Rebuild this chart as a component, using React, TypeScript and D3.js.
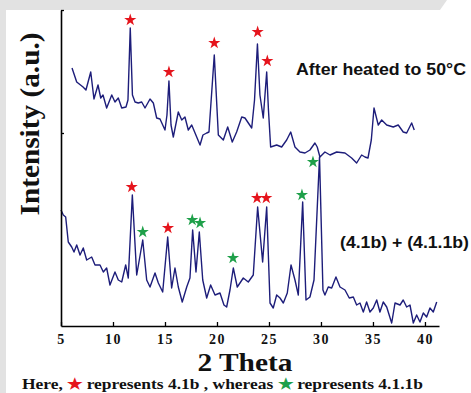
import React, { useRef, useEffect } from 'react';
import * as d3 from 'd3';

const W = 471;
const H = 393;

const xTicks = [5, 10, 15, 20, 25, 30, 35, 40];

// upper pattern: after heating to 50 °C
const heatedTheta = [6.06, 6.51, 7.12, 7.40, 7.86, 8.17, 8.56, 8.82, 9.04, 9.39, 9.88, 10.19, 10.51, 10.84, 11.25, 11.44, 11.66, 11.87, 12.12, 12.43, 12.76, 13.08, 13.56, 13.88, 14.20, 14.52, 15.0, 15.19, 15.38, 15.58, 15.80, 16.28, 16.61, 16.92, 17.24, 17.57, 18.05, 18.37, 18.65, 19.01, 19.23, 19.74, 20.13, 20.61, 21.03, 21.47, 21.89, 22.38, 22.69, 23.34, 23.61, 23.89, 24.13, 24.45, 24.78, 24.95, 25.16, 25.74, 26.22, 26.70, 27.09, 27.50, 27.98, 28.46, 28.94, 29.42, 29.64, 29.90, 30.38, 30.87, 31.51, 32.31, 32.95, 33.43, 33.91, 34.23, 34.52, 34.84, 35.10, 35.51, 35.84, 36.32, 36.95, 37.43, 37.91, 38.24, 38.72, 38.97];
const heatedCounts = [258, 244, 239, 236, 254, 227, 241, 228, 231, 218, 231, 224, 228, 218, 219, 226, 298, 231, 224, 223, 224, 218, 227, 223, 208, 207, 196, 211, 245, 201, 189, 214, 206, 209, 196, 201, 189, 181, 191, 193, 194, 271, 191, 186, 199, 184, 194, 209, 208, 198, 226, 282, 231, 208, 254, 216, 179, 181, 179, 186, 194, 179, 174, 173, 176, 183, 179, 169, 174, 171, 174, 173, 168, 163, 171, 169, 168, 186, 218, 201, 206, 201, 199, 201, 194, 193, 203, 196];

// lower pattern: (4.1b) + (4.1.1b)
const mixTheta = [5.0, 5.22, 5.45, 5.70, 6.03, 6.25, 6.51, 6.83, 7.14, 7.47, 7.95, 8.27, 8.75, 9.07, 9.39, 9.71, 10.19, 10.51, 10.84, 11.22, 11.47, 11.86, 12.28, 12.86, 13.24, 13.56, 14.04, 14.36, 14.78, 15.26, 15.64, 15.96, 16.28, 16.66, 17.09, 17.40, 17.66, 17.98, 18.30, 18.63, 19.01, 19.39, 19.81, 20.29, 20.67, 20.93, 21.25, 21.57, 21.95, 22.21, 22.53, 23.01, 23.49, 23.91, 24.39, 24.78, 25.10, 25.41, 25.74, 26.06, 26.38, 26.76, 27.12, 27.50, 27.82, 28.24, 28.56, 28.94, 29.33, 29.86, 30.19, 30.38, 30.70, 31.03, 31.44, 31.83, 32.31, 32.72, 33.11, 33.43, 33.75, 34.07, 34.39, 34.71, 35.03, 35.36, 35.67, 35.99, 36.32, 36.80, 37.12, 37.60, 37.91, 38.24, 38.56, 38.88, 39.20, 39.52, 39.84, 40.16, 40.48, 40.80, 41.13];
const mixCounts = [116, 111, 109, 84, 79, 74, 81, 71, 78, 66, 69, 61, 61, 54, 58, 41, 54, 46, 44, 61, 48, 131, 51, 86, 46, 39, 53, 43, 34, 89, 38, 58, 39, 24, 39, 48, 96, 54, 94, 46, 28, 41, 31, 33, 21, 19, 36, 58, 39, 43, 48, 44, 51, 119, 64, 119, 23, 18, 31, 28, 23, 33, 61, 46, 31, 124, 26, 29, 46, 169, 36, 31, 39, 38, 49, 39, 36, 28, 29, 21, 23, 14, 24, 14, 18, 26, 14, 24, 19, 3, 23, 21, 26, 19, 21, 3, 11, 4, 13, 9, 18, 14, 24];

// star markers: red = 4.1b, green = 4.1.1b
const redStarTheta = [11.66, 15.38, 19.74, 23.91, 24.84, 11.80, 15.29, 23.85, 24.74];
const redStarCounts = [306, 254, 283, 294, 265, 139, 98, 128, 128];
const greenStarTheta = [12.86, 17.62, 18.37, 21.54, 28.17, 29.23];
const greenStarCounts = [94, 106, 103, 68, 131, 164];

const serif = '"Times New Roman", "Liberation Serif", serif';
const sans = 'Arial, "Liberation Sans", sans-serif';

const XrdChart = () => {
  const ref = useRef(null);

  useEffect(() => {
    const svg = d3.select(ref.current);
    svg.selectAll('*').remove();

    const margin = { top: 10, right: 32, bottom: 67, left: 61 };

    const x = d3.scaleLinear()
      .domain([5, 41.35])
      .range([margin.left, W - margin.right]);
    const y = d3.scaleLinear()
      .domain([0, 316])
      .range([H - margin.bottom, margin.top]);

    // page backdrop (grey band at top and left edge)
    svg.append('rect').attr('width', W).attr('height', H).attr('fill', '#fff');
    svg.append('path')
      .attr('d', 'M0,0 L447,0 L440,10 L6,10 L6,393 L0,393 Z')
      .attr('fill', '#e2e2e2');

    const line = d3.line().x(d => x(d[0])).y(d => y(d[1]));

    svg.append('path')
      .datum(d3.zip(heatedTheta, heatedCounts))
      .attr('d', line)
      .attr('fill', 'none')
      .attr('stroke', '#1d1d7a')
      .attr('stroke-width', 1.4)
      .attr('stroke-linejoin', 'round');

    svg.append('path')
      .datum(d3.zip(mixTheta, mixCounts))
      .attr('d', line)
      .attr('fill', 'none')
      .attr('stroke', '#1d1d7a')
      .attr('stroke-width', 1.4)
      .attr('stroke-linejoin', 'round');

    // axes
    const xAxis = svg.append('g')
      .attr('transform', `translate(0, ${y(0)})`)
      .call(d3.axisBottom(x).tickValues(xTicks).tickSizeInner(-4).tickSizeOuter(0));
    xAxis.select('.domain').attr('stroke', '#000').attr('stroke-width', 1.6);
    xAxis.selectAll('.tick line').attr('stroke', '#000').attr('stroke-width', 1.3);
    xAxis.selectAll('.tick text')
      .attr('y', 18)
      .attr('dy', 0)
      .attr('fill', '#111')
      .style('font-family', serif)
      .style('font-weight', 'bold')
      .style('font-size', '14px')
      .style('letter-spacing', '1.5px');

    const yAxis = svg.append('g')
      .attr('transform', `translate(${x(5)}, 0)`)
      .call(d3.axisLeft(y).tickValues([193, 316]).tickSizeInner(-3).tickSizeOuter(0).tickFormat(() => ''));
    yAxis.select('.domain').attr('stroke', '#000').attr('stroke-width', 1.6);
    yAxis.selectAll('.tick line').attr('stroke', '#000').attr('stroke-width', 1.3);

    // peak markers
    const star = d3.symbol().type(d3.symbolStar).size(46);
    svg.append('g').selectAll('path')
      .data(d3.zip(redStarTheta, redStarCounts))
      .join('path')
      .attr('transform', d => `translate(${x(d[0])}, ${y(d[1])})`)
      .attr('d', star)
      .attr('fill', '#e5141c');
    svg.append('g').selectAll('path')
      .data(d3.zip(greenStarTheta, greenStarCounts))
      .join('path')
      .attr('transform', d => `translate(${x(d[0])}, ${y(d[1])})`)
      .attr('d', star)
      .attr('fill', '#1fa04a');

    // titles
    svg.append('text')
      .attr('transform', 'translate(39, 124) rotate(-90)')
      .attr('text-anchor', 'middle')
      .attr('textLength', 183)
      .attr('lengthAdjust', 'spacingAndGlyphs')
      .style('font-family', serif)
      .style('font-weight', 'bold')
      .style('font-size', '28px')
      .attr('fill', '#111')
      .text('Intensity (a.u.)');

    svg.append('text')
      .attr('x', 245)
      .attr('y', 371)
      .attr('text-anchor', 'middle')
      .attr('textLength', 95)
      .attr('lengthAdjust', 'spacingAndGlyphs')
      .style('font-family', serif)
      .style('font-weight', 'bold')
      .style('font-size', '26px')
      .attr('fill', '#111')
      .text('2 Theta');

    svg.append('text')
      .attr('x', 296)
      .attr('y', 75)
      .attr('textLength', 170)
      .attr('lengthAdjust', 'spacingAndGlyphs')
      .style('font-family', sans)
      .style('font-weight', 'bold')
      .style('font-size', '17px')
      .attr('fill', '#111')
      .text('After heated to 50°C');

    svg.append('text')
      .attr('x', 340)
      .attr('y', 248)
      .attr('textLength', 129)
      .attr('lengthAdjust', 'spacingAndGlyphs')
      .style('font-family', sans)
      .style('font-weight', 'bold')
      .style('font-size', '17px')
      .attr('fill', '#111')
      .text('(4.1b) + (4.1.1b)');

    // caption
    const cap = svg.append('text')
      .attr('x', 22)
      .attr('y', 389)
      .attr('textLength', 401)
      .attr('lengthAdjust', 'spacingAndGlyphs')
      .style('font-family', serif)
      .style('font-weight', 'bold')
      .style('font-size', '15px')
      .attr('fill', '#111');
    cap.append('tspan').text('Here, ');
    cap.append('tspan').attr('fill', '#e5141c').text('★');
    cap.append('tspan').text(' represents 4.1b , whereas ');
    cap.append('tspan').attr('fill', '#1fa04a').text('★');
    cap.append('tspan').text(' represents 4.1.1b');
  }, []);

  return (
    <svg ref={ref} width={W} height={H}
      style={{ position: 'absolute', left: 0, top: 0, display: 'block' }} />
  );
};

export default function App() {
  return <XrdChart />;
}
